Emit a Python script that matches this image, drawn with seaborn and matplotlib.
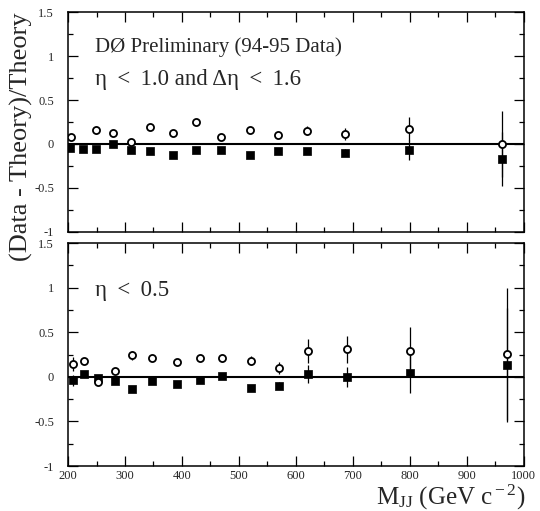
import numpy as np
import pandas as pd
import matplotlib
matplotlib.use("Agg")
import matplotlib.pyplot as plt
import seaborn as sns
from matplotlib.ticker import MultipleLocator, FixedLocator

# ---- |eta| < 1.0 and delta-eta < 1.6 ----
top_mass_open = [205, 249, 279, 310, 344, 384, 425, 469, 519, 569, 619, 686, 798, 961]
top_open = [0.08, 0.16, 0.12, 0.02, 0.19, 0.13, 0.25, 0.08, 0.16, 0.10, 0.15, 0.11, 0.17, 0.00]
top_open_err = [0.02, 0.05, 0.02, 0.02, 0.02, 0.02, 0.02, 0.02, 0.03, 0.03, 0.05, 0.07, 0.14, 0.37]

top_mass_fill = [204, 226, 249, 279, 310, 344, 384, 425, 469, 519, 569, 619, 686, 798, 961]
top_fill = [-0.04, -0.06, -0.06, 0.00, -0.07, -0.08, -0.12, -0.07, -0.07, -0.12, -0.08, -0.08, -0.10, -0.07, -0.17]
top_fill_err = [0.02, 0.02, 0.02, 0.02, 0.02, 0.02, 0.02, 0.02, 0.02, 0.02, 0.02, 0.03, 0.04, 0.11, 0.31]

# ---- |eta| < 0.5 ----
bot_mass = [208, 228, 252, 282, 312, 347, 391, 432, 471, 521, 571, 622, 690, 801, 970]
bot_open = [0.14, 0.18, -0.06, 0.06, 0.24, 0.21, 0.17, 0.21, 0.21, 0.18, 0.10, 0.29, 0.31, 0.29, 0.26]
bot_open_err = [0.08, 0.02, 0.03, 0.03, 0.05, 0.03, 0.03, 0.03, 0.04, 0.05, 0.07, 0.13, 0.15, 0.27, 0.74]
bot_fill = [-0.04, 0.03, -0.01, -0.05, -0.14, -0.05, -0.08, -0.03, 0.01, -0.13, -0.10, 0.03, 0.00, 0.04, 0.13]
bot_fill_err = [0.06, 0.02, 0.02, 0.02, 0.02, 0.02, 0.02, 0.02, 0.02, 0.03, 0.04, 0.10, 0.11, 0.22, 0.64]

y_ticks = [-1, -0.5, 0, 0.5, 1, 1.5]
y_tick_labels = ["-1", "-0.5", "0", "0.5", "1", "1.5"]
x_ticks = [200, 300, 400, 500, 600, 700, 800, 900, 1000]

sns.set_theme(style="ticks")
plt.rcParams["font.family"] = ["Liberation Serif", "DejaVu Serif"]
plt.rcParams["mathtext.fontset"] = "custom"
plt.rcParams["mathtext.rm"] = "Liberation Serif"
plt.rcParams["mathtext.it"] = "Liberation Serif:italic"

fig = plt.figure(figsize=(5.4, 5.11), dpi=100)
ax_top = fig.add_axes([0.126, 0.546, 0.844, 0.4305])
ax_bot = fig.add_axes([0.126, 0.088, 0.844, 0.4364])


def draw_series(ax, mass, vals, errs, filled):
    df = pd.DataFrame({"mass": mass, "val": vals, "err": errs})
    ax.errorbar(df["mass"], df["val"], yerr=df["err"], fmt="none",
                ecolor="black", elinewidth=0.9, capsize=0, zorder=2)
    if filled:
        sns.scatterplot(data=df, x="mass", y="val", ax=ax, marker="s", s=32,
                        color="black", edgecolor="black", linewidth=0.5, zorder=4)
    else:
        sns.scatterplot(data=df, x="mass", y="val", ax=ax, marker="o", s=26,
                        facecolor="white", edgecolor="black", linewidth=1.3, zorder=5)


def style_axes(ax, show_xlabels):
    ax.axhline(0, color="black", lw=1.5, zorder=3)
    ax.set_xlim(200, 1000)
    ax.set_ylim(-1, 1.5)
    ax.yaxis.set_major_locator(FixedLocator(y_ticks))
    ax.set_yticklabels(y_tick_labels)
    ax.yaxis.set_minor_locator(MultipleLocator(0.25))
    ax.xaxis.set_major_locator(FixedLocator(x_ticks))
    ax.xaxis.set_minor_locator(MultipleLocator(50))
    ax.tick_params(which="both", direction="in", top=True, right=True,
                   width=0.9, color="black")
    ax.tick_params(axis="y", labelsize=9, pad=10)
    ax.tick_params(axis="x", labelsize=9, pad=3)
    ax.tick_params(which="major", length=7)
    ax.tick_params(which="minor", length=3.5)
    if show_xlabels:
        ax.set_xticklabels([str(t) for t in x_ticks])
    else:
        ax.set_xticklabels([])
    for sp in ax.spines.values():
        sp.set_linewidth(1.1)
        sp.set_color("black")
    ax.set_xlabel("")
    ax.set_ylabel("")


draw_series(ax_top, top_mass_open, top_open, top_open_err, filled=False)
draw_series(ax_top, top_mass_fill, top_fill, top_fill_err, filled=True)
draw_series(ax_bot, bot_mass, bot_open, bot_open_err, filled=False)
draw_series(ax_bot, bot_mass, bot_fill, bot_fill_err, filled=True)

style_axes(ax_top, False)
style_axes(ax_bot, True)

ax_top.text(247, 1.10, "DØ Preliminary (94-95 Data)", fontsize=15, va="center", ha="left")
ax_top.text(247, 0.73, "η\u2009 < \u20091.0 and Δη\u2009 < \u20091.6", fontsize=16.5,
            va="center", ha="left")
ax_bot.text(247, 0.97, "η\u2009 < \u20090.5", fontsize=16.5, va="center", ha="left")

fig.text(0.04, 0.732, "(Data - Theory)/Theory", rotation=90, fontsize=19,
         ha="center", va="center")
fig.text(0.973, 0.012, r"M$_{\rm JJ}$ (GeV c$^{\rm -2}$)", fontsize=18,
         ha="right", va="baseline")

fig.savefig("out.png", dpi=100)
